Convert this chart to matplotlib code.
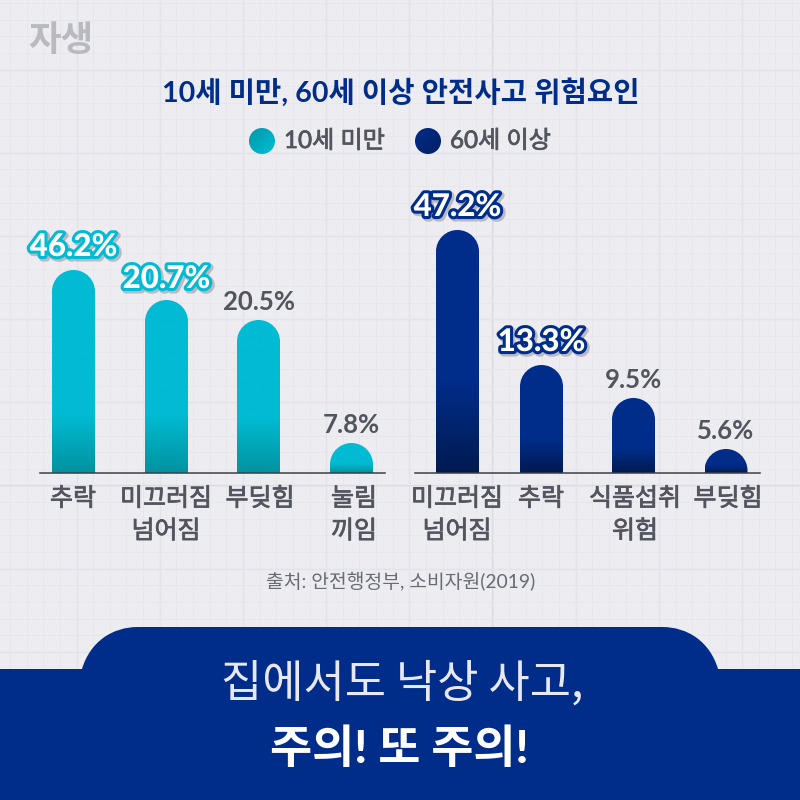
from matplotlib import pyplot as plt
from matplotlib.patches import Circle, PathPatch
from matplotlib.path import Path
from matplotlib.colors import LinearSegmentedColormap
import matplotlib.patheffects as pe
import numpy as np

plt.rcParams['font.family'] = ['Lato', 'Noto Sans CJK KR', 'DejaVu Sans']

TITLE = "10세 미만, 60세 이상 안전사고 위험요인"
SERIES_NAMES = ["10세 미만", "60세 이상"]
SOURCE = "출처: 안전행정부, 소비자원(2019)"
FOOT_1 = "집에서도 낙상 사고,"
FOOT_2 = "주의! 또 주의!"

young_labels = ["추락", "미끄러짐\n넘어짐", "부딪힘", "눌림\n끼임"]
young_values = ["46.2%", "20.7%", "20.5%", "7.8%"]
# the bars in the picture are not to scale with their labels, so heights are read separately
young_heights = [203, 173, 153, 30]

old_labels = ["미끄러짐\n넘어짐", "추락", "식품섭취\n위험", "부딪힘"]
old_values = ["47.2%", "13.3%", "9.5%", "5.6%"]
old_heights = [243, 108, 75, 24]

BG = "#ECECF1"
CYAN = "#00BBD3"
CYAN_DARK = "#00939F"
NAVY = "#002D8A"
NAVY_DARK = "#001A50"
GREY = "#52555E"

BASE_Y = 473
BAR_W = 43

# regular weight with a hairline stroke, the medium weight of the reference
MEDIUM = [pe.withStroke(linewidth=0.55, foreground=GREY)]


def rounded_bar_path(xc, w, h):
    r = w / 2
    k = 0.5523 * r
    x0, x1 = xc - r, xc + r
    r_y = min(h, r)
    ky = 0.5523 * r_y
    verts = [(x0, 0), (x0, h - r_y),
             (x0, h - r_y + ky), (xc - k, h), (xc, h),
             (xc + k, h), (x1, h - r_y + ky), (x1, h - r_y),
             (x1, 0), (x0, 0)]
    codes = [Path.MOVETO, Path.LINETO,
             Path.CURVE4, Path.CURVE4, Path.CURVE4,
             Path.CURVE4, Path.CURVE4, Path.CURVE4,
             Path.LINETO, Path.CLOSEPOLY]
    return Path(verts, codes)


def draw_bars(x_left, x_right, centers, label_x, labels, values, heights, top, bottom, frac, hilite):
    ax = fig.add_axes([x_left / 800, (800 - BASE_Y) / 800, (x_right - x_left) / 800, 280 / 800])
    ax.patch.set_alpha(0)
    ax.set_yticks([])
    # category labels sit slightly off their bars in the reference
    ax.set_xticks(label_x)
    ax.set_xticklabels(labels, fontsize=18, color=GREY, linespacing=1.5, va='top')
    for t in ax.get_xticklabels():
        t.set_path_effects(MEDIUM)
    ax.tick_params(axis='x', length=0, pad=10)
    for s in ['top', 'left', 'right']:
        ax.spines[s].set_visible(False)
    ax.spines['bottom'].set_color('#3C3F48')
    ax.spines['bottom'].set_linewidth(1.1)

    cmap = LinearSegmentedColormap.from_list('bar', [bottom, top])
    for i, (xc, h) in enumerate(zip(centers, heights)):
        grad = np.clip(np.linspace(0, 1, 256) / frac[i], 0, 1).reshape(-1, 1)
        im = ax.imshow(grad, origin='lower', aspect='auto', cmap=cmap, vmin=0, vmax=1,
                       extent=(xc - BAR_W / 2, xc + BAR_W / 2, 0, h), zorder=2)
        patch = PathPatch(rounded_bar_path(xc, BAR_W, h), fc='none', ec='none', transform=ax.transData)
        ax.add_patch(patch)
        im.set_clip_path(patch)
        if i in hilite:
            ax.text(xc, h + hilite[i], values[i], ha='center', va='baseline', fontsize=22.5,
                    fontweight='black', color='white', zorder=5, clip_on=False,
                    path_effects=[pe.Stroke(linewidth=5, foreground='#70707C', alpha=0.4, offset=(1.5, -1.5)),
                                  pe.Stroke(linewidth=4.4, foreground=top),
                                  pe.Normal()])
        else:
            ax.text(xc, h + 10, values[i], ha='center', va='baseline', fontsize=18.5,
                    fontweight='bold', color=GREY, zorder=5, clip_on=False)
    ax.set_xlim(x_left, x_right)
    ax.set_ylim(0, 280)
    return ax


def legend_dot(xc, yc, c1, c2):
    cmap = LinearSegmentedColormap.from_list('dot', [c1, c2])
    xx, yy = np.meshgrid(np.linspace(0, 1, 64), np.linspace(0, 1, 64))
    im = bg.imshow(xx + yy, extent=(xc - 14, xc + 14, yc + 14, yc - 14), cmap=cmap, aspect='auto', zorder=3)
    c = Circle((xc, yc), 13, fc='none', ec='none')
    bg.add_patch(c)
    im.set_clip_path(c)


fig = plt.figure(figsize=(8, 8), dpi=100, facecolor=BG)

# background grid and everything that is laid out in page pixels
bg = fig.add_axes([0, 0, 1, 1])
bg.set_facecolor(BG)
bg.set_xticks(np.arange(76.5, 800, 83.2))
bg.set_yticks(np.arange(69.5, 800, 83.2))
bg.set_xticks(np.arange(10, 800, 16.64), minor=True)
bg.set_yticks(np.arange(3, 800, 16.64), minor=True)
bg.grid(which='major', color='#DCDCE3', lw=0.9)
bg.grid(which='minor', color='#E5E5EB', lw=0.6)
bg.tick_params(which='both', length=0, labelbottom=False, labelleft=False)
for s in bg.spines.values():
    s.set_visible(False)
bg.set_axisbelow(True)

bg.text(60.5, 41, "자생", ha='center', va='center', fontsize=25.5, fontweight='black', color='#B9B9C0')
bg.text(400.5, 93, TITLE, ha='center', va='center', fontsize=20.6, fontweight='bold', color=NAVY)

legend_dot(262, 141, '#0097A5', '#00BFD8')
bg.text(284, 141, SERIES_NAMES[0], ha='left', va='center', fontsize=17.4, color=GREY, path_effects=MEDIUM)
legend_dot(428, 141, '#002D8A', '#001F63')
bg.text(450, 141, SERIES_NAMES[1], ha='left', va='center', fontsize=17.4, color=GREY, path_effects=MEDIUM)

bg.text(401, 582, SOURCE, ha='center', va='center', fontsize=13.85, color='#686B74')

# footer banner, elliptical shoulders
banner = Path([(0, 800), (0, 669), (82, 669),
               (90, 642), (112, 627), (138, 627),
               (662, 627), (688, 627), (710, 642), (718, 669),
               (800, 669), (800, 800), (0, 800)],
              [Path.MOVETO, Path.LINETO, Path.LINETO,
               Path.CURVE4, Path.CURVE4, Path.CURVE4,
               Path.LINETO, Path.CURVE4, Path.CURVE4, Path.CURVE4,
               Path.LINETO, Path.LINETO, Path.CLOSEPOLY])
bg.add_patch(PathPatch(banner, fc=NAVY, ec='none', zorder=3))
bg.text(402, 684, FOOT_1, ha='center', va='center', fontsize=32.3, fontweight='light', color='#E8E8F2', zorder=4,
        family=['Noto Sans CJK KR', 'DejaVu Sans'])
bg.text(399, 750, FOOT_2, ha='center', va='center', fontsize=33, fontweight='black', color='white', zorder=4)

bg.set_xlim(0, 800)
bg.set_ylim(800, 0)

draw_bars(40, 385, [73.5, 166.5, 258.5, 351.5], [73, 166, 260, 354], young_labels, young_values, young_heights,
          CYAN, CYAN_DARK, [0.29, 0.34, 0.36, 0.34], {0: 14, 1: 12})
draw_bars(415, 760, [457.5, 541.5, 633.5, 726], [457, 541, 635, 728], old_labels, old_values, old_heights,
          NAVY, NAVY_DARK, [0.38, 0.32, 0.33, 0.35], {0: 14, 1: 14})

fig.savefig('out.png', dpi=100, facecolor=BG)
